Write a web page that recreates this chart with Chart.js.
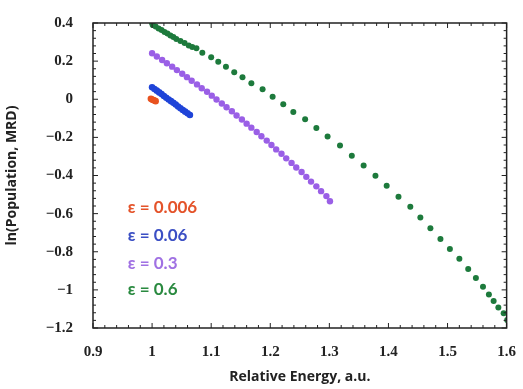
<!DOCTYPE html>
<html>
<head>
<meta charset="utf-8">
<script src="https://cdn.jsdelivr.net/npm/chart.js@4.4.1/dist/chart.umd.min.js"></script>
<style>
  html, body { margin: 0; padding: 0; background: #fff; }
  #wrap { width: 523px; height: 389px; }
</style>
</head>
<body>
<div id="wrap"><canvas id="energyChart" width="523" height="389"></canvas></div>
<script>
// values
const redX = [0.998, 1.000, 1.002, 1.004, 1.006];
const redY = [0.002, -0.001, -0.004, -0.007, -0.010];

const blueX = [1.000, 1.004, 1.008, 1.012, 1.016, 1.020, 1.024, 1.028, 1.032, 1.036, 1.040, 1.044, 1.048, 1.052, 1.056, 1.060, 1.064];
const blueY = [0.063, 0.054, 0.045, 0.036, 0.027, 0.017, 0.008, -0.001, -0.010, -0.019, -0.028, -0.038, -0.047, -0.056, -0.065, -0.074, -0.083];

const purpleX = [1.000, 1.008, 1.017, 1.025, 1.034, 1.042, 1.051, 1.059, 1.067, 1.076, 1.084, 1.093, 1.101, 1.109, 1.118, 1.126, 1.135, 1.143, 1.152, 1.160, 1.168, 1.177, 1.185, 1.194, 1.202, 1.210, 1.219, 1.227, 1.236, 1.244, 1.253, 1.261, 1.269, 1.278, 1.286, 1.295, 1.301];
const purpleY = [0.241, 0.224, 0.206, 0.189, 0.171, 0.153, 0.134, 0.116, 0.097, 0.078, 0.058, 0.039, 0.019, -0.001, -0.022, -0.042, -0.063, -0.085, -0.106, -0.128, -0.149, -0.172, -0.194, -0.217, -0.240, -0.263, -0.286, -0.310, -0.334, -0.358, -0.382, -0.407, -0.432, -0.457, -0.482, -0.508, -0.535];

const greenX = [1.000, 1.001, 1.006, 1.011, 1.016, 1.021, 1.026, 1.031, 1.036, 1.041, 1.048, 1.055, 1.062, 1.068, 1.075, 1.085, 1.100, 1.112, 1.125, 1.139, 1.153, 1.168, 1.187, 1.204, 1.222, 1.239, 1.259, 1.278, 1.297, 1.318, 1.338, 1.358, 1.378, 1.397, 1.417, 1.437, 1.454, 1.471, 1.488, 1.504, 1.520, 1.535, 1.548, 1.560, 1.570, 1.578, 1.586, 1.595, 1.601];
const greenY = [0.400, 0.390, 0.382, 0.371, 0.363, 0.353, 0.345, 0.334, 0.327, 0.316, 0.306, 0.295, 0.282, 0.274, 0.267, 0.244, 0.220, 0.197, 0.171, 0.141, 0.115, 0.084, 0.053, 0.013, -0.026, -0.067, -0.105, -0.151, -0.196, -0.243, -0.296, -0.348, -0.401, -0.454, -0.512, -0.564, -0.620, -0.677, -0.733, -0.786, -0.837, -0.891, -0.938, -0.984, -1.024, -1.059, -1.092, -1.123, -1.158];

const seriesNames = ['ε = 0.006', 'ε = 0.06', 'ε = 0.3', 'ε = 0.6'];
const labelY = [-0.57, -0.715, -0.86, -1.0];

const pts = (xs, ys) => xs.map((x, i) => ({ x: x, y: ys[i] }));
const minus = v => String(Math.round(v * 10) / 10).replace('-', '\u2212');

// frame with inward major/minor ticks, like the original plot
const framePlugin = {
  id: 'frame',
  afterDraw(chart) {
    const { ctx, chartArea: a, scales: { x, y } } = chart;
    ctx.save();
    ctx.strokeStyle = '#222';
    ctx.lineWidth = 1.5;
    ctx.strokeRect(a.left, a.top, a.right - a.left, a.bottom - a.top);
    ctx.lineWidth = 1;
    ctx.beginPath();
    for (let i = 0; i <= 35; i++) {
      const px = x.getPixelForValue(0.9 + i * 0.02);
      const len = i % 5 === 0 ? 5 : 3;
      ctx.moveTo(px, a.bottom); ctx.lineTo(px, a.bottom - len);
      ctx.moveTo(px, a.top); ctx.lineTo(px, a.top + len);
    }
    for (let i = 0; i <= 40; i++) {
      const py = y.getPixelForValue(-1.2 + i * 0.04);
      const len = i % 5 === 0 ? 5 : 3;
      ctx.moveTo(a.left, py); ctx.lineTo(a.left + len, py);
      ctx.moveTo(a.right, py); ctx.lineTo(a.right - len, py);
    }
    ctx.stroke();

    // series labels inside the plot
    const colors = ['#e4532a', '#3b4fc4', '#a071e3', '#2a8a40'];
    ctx.font = 'bold 17px Lato, "Open Sans", sans-serif';
    ctx.textBaseline = 'middle';
    ctx.textAlign = 'left';
    seriesNames.forEach((t, i) => {
      ctx.fillStyle = colors[i];
      ctx.fillText(t, x.getPixelForValue(0.959), y.getPixelForValue(labelY[i]));
    });
    ctx.restore();
  }
};

const ctx = document.getElementById('energyChart');
new Chart(ctx, {
  type: 'scatter',
  data: {
    datasets: [
      { label: seriesNames[3], data: pts(greenX, greenY), backgroundColor: '#1d7a3c', pointRadius: 3 },
      { label: seriesNames[2], data: pts(purpleX, purpleY), backgroundColor: '#9a5fe6', pointRadius: 3.2 },
      { label: seriesNames[1], data: pts(blueX, blueY), backgroundColor: '#1f44d8', pointRadius: 3.3 },
      { label: seriesNames[0], data: pts(redX, redY), backgroundColor: '#e8521f', pointRadius: 3.3 }
    ]
  },
  options: {
    responsive: false,
    animation: false,
    layout: { padding: { top: 23, right: 14, left: 0, bottom: 0 } },
    elements: { point: { borderWidth: 0, hoverRadius: 3 } },
    plugins: { legend: { display: false }, tooltip: { enabled: false } },
    scales: {
      x: {
        type: 'linear', min: 0.9, max: 1.6,
        grid: { display: false }, border: { display: false },
        ticks: {
          stepSize: 0.1, padding: 7, color: '#222',
          font: { family: '"Liberation Serif", serif', weight: 'bold', size: 15 },
          callback: v => minus(v)
        },
        title: {
          display: true, text: 'Relative Energy, a.u.', color: '#222',
          font: { family: '"Open Sans", sans-serif', weight: 'bold', size: 14 },
          padding: { top: 7 }
        },
        afterFit(s) { s.height = 61; }
      },
      y: {
        type: 'linear', min: -1.2, max: 0.4,
        grid: { display: false }, border: { display: false },
        ticks: {
          stepSize: 0.2, padding: 12, color: '#222',
          font: { family: '"Liberation Serif", serif', weight: 'bold', size: 15 },
          callback: v => minus(v)
        },
        title: {
          display: true, text: 'ln(Population, MRD)', color: '#222',
          font: { family: '"Open Sans", sans-serif', weight: 'bold', size: 14 },
          padding: { bottom: 0 }
        },
        afterFit(s) { s.width = 93; }
      }
    }
  },
  plugins: [framePlugin]
});
</script>
</body>
</html>
